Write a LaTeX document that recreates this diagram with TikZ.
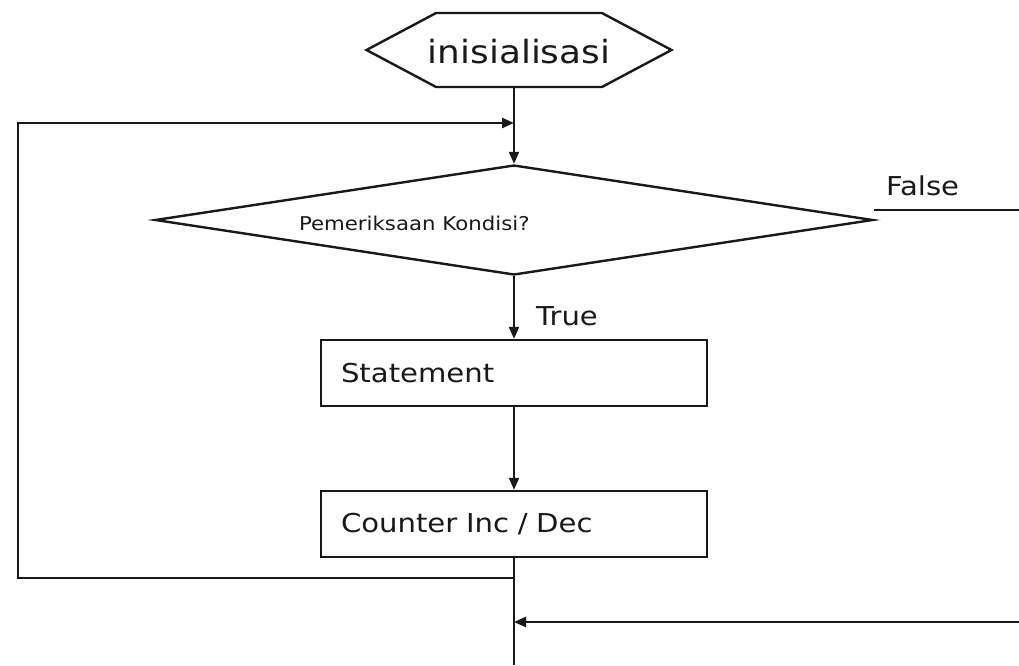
\documentclass[tikz,border=0pt]{standalone}
\usepackage{fontspec}
\setmainfont{DejaVu Sans}[FakeStretch=1.12]
\usetikzlibrary{arrows.meta,shapes.geometric,shapes.symbols}
\colorlet{flowline}{black!90}

\begin{document}
\begin{tikzpicture}[x=1pt,y=-1pt,flowline,line width=2pt,
    tip/.style={-{Triangle[length=12pt,width=10pt]}},
    stepbox/.style={rectangle,draw,line width=2.4pt,minimum width=386pt,minimum height=66pt,
      text width=346pt,align=left,inner xsep=20pt,font=\fontsize{26}{30}\selectfont},
    lbl/.style={anchor=base west,inner sep=0pt,font=\fontsize{26}{30}\selectfont}]
  \useasboundingbox (0,0) rectangle (1019,665);
  \node[signal,signal to=west and east,draw,line width=2.4pt,minimum width=305pt,minimum height=74pt,
    signal pointer angle=56,inner sep=0pt] (init) at (519,50) {};
  \node[anchor=base,inner sep=0pt,font=\fontsize{32}{36}\selectfont] (inittxt) at (519,63) {inisialisasi};
  \node[diamond,draw,line width=2.4pt,minimum width=718pt,minimum height=110pt,inner sep=0pt,aspect=6.5] (cek) at (514,220) {};
  \node[lbl,font=\fontsize{19}{22}\selectfont] (cektxt) at (298,230) {Pemeriksaan Kondisi?};
  \node[stepbox] (stm) at (514,373) {Statement};
  \node[stepbox] (cnt) at (514,524) {Counter Inc / Dec};
  \node[lbl] (true) at (535,325) {True};
  \node[lbl] (false) at (885,195) {False};
  % loop and exits
  \coordinate (join) at (514,123);
  \coordinate (loopbot) at (514,578);
  \coordinate (loopleft) at (18,578);
  \coordinate (exitF) at (1019,210);
  \coordinate (backF) at (1019,622);
  \coordinate (out) at (514,665);
  \scope[every path/.append style={draw}]
  \path[tip] (init.south -| stm) -- (cek.north -| stm);
  \path[tip] (cek.south -| stm) -- (stm.north);
  \path[tip] (stm.south) -- (cnt.north);
  \path (cnt.south) -- (out);
  \path[tip,line width=2.6pt] (loopbot) -- (loopleft) |- (join);
  \path ([yshift=10pt]cek.east) -- (exitF);
  \path[tip,line width=2.4pt] (backF) -- (backF -| stm);
  \endscope
\end{tikzpicture}
\end{document}
